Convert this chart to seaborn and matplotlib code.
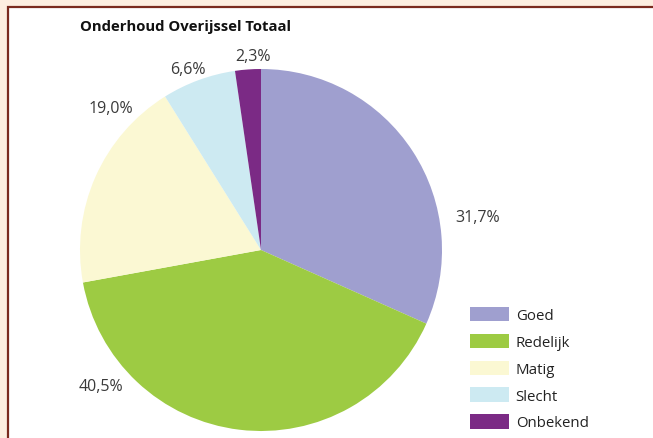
import matplotlib
matplotlib.use("Agg")
import matplotlib.pyplot as plt
import seaborn as sns
from matplotlib.patches import Rectangle, Patch
import numpy as np

categories = ["Goed", "Redelijk", "Matig", "Slecht", "Onbekend"]
values = [31.7, 40.5, 19.0, 6.6, 2.3]
value_labels = ["31,7%", "40,5%", "19,0%", "6,6%", "2,3%"]
title = "Onderhoud Overijssel Totaal"

colors = ["#9f9fcf", "#9dcb43", "#fbf8d3", "#cdeaf2", "#7b2a85"]
# label placement (angle in degrees, radius relative to pie radius)
label_angles = [8.6, 220.4, 136.6, 112.0, 92.4]
label_radii = [1.21, 1.16, 1.14, 1.08, 1.07]

sns.set_theme(style="white")
plt.rcParams["font.family"] = ["Open Sans", "DejaVu Sans"]

W, H = 653, 439
fig = plt.figure(figsize=(W / 100, H / 100), dpi=100, facecolor="#fdeee0")

# white panel with dark border (left and top visible)
panel = Rectangle((8 / W, -0.5), 2.0, 1.5 - 8 / H, transform=fig.transFigure,
                  facecolor="white", edgecolor="#7a2a1e", linewidth=1.6, zorder=-5)
fig.patches.append(panel)

cx, cy, R = 261, 251, 181
ax = fig.add_axes([(cx - R) / W, (H - cy - R) / H, 2 * R / W, 2 * R / H])
ax.set_zorder(2)
ax.set_facecolor("none")
wedges, _ = ax.pie(values, colors=colors, startangle=90, counterclock=False,
                   radius=1.0, wedgeprops=dict(linewidth=0))
ax.set_xlim(-1, 1)
ax.set_ylim(-1, 1)
ax.set_aspect("equal")
ax.axis("off")

for lab, ang, r in zip(value_labels, label_angles, label_radii):
    a = np.deg2rad(ang)
    ax.text(r * np.cos(a), r * np.sin(a), lab, ha="center", va="center",
            fontsize=11.5, color="#3a3a3a", clip_on=False)

fig.text(80 / W, 1 - 27 / H, title, ha="left", va="center", fontsize=10.7,
         fontweight="bold", color="#111111")

handles = [Patch(facecolor=c, edgecolor="none", label=l) for c, l in zip(colors, categories)]
fig.legend(handles=handles, loc="upper left", bbox_to_anchor=(470 / W, 1 - 308 / H),
           frameon=False, fontsize=10.8, handlelength=2.6, handleheight=1.1,
           handletextpad=0.45, labelspacing=0.7, borderpad=0, borderaxespad=0,
           labelcolor="#222222")

fig.savefig("out.png", dpi=100, facecolor=fig.get_facecolor())
